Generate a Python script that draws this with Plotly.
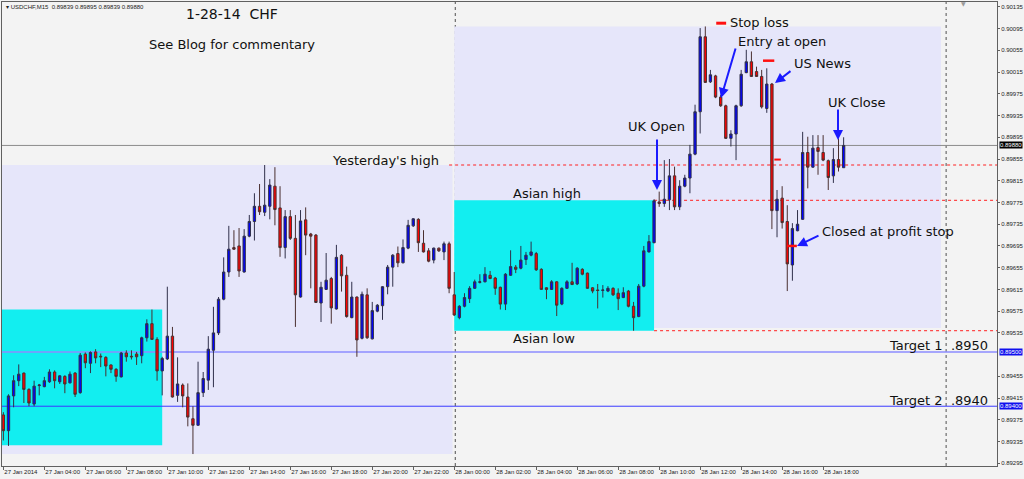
import plotly.graph_objects as go
import pandas as pd

# ---------------- data (USDCHF M15) ----------------
bar_times = pd.date_range("2014-01-27 02:00", periods=165, freq="15min")

opens = [0.89384,0.89355,0.89419,0.89447,0.89461,0.89431,0.89404,0.89438,0.89436,0.89445,
         0.89463,0.89445,0.89455,0.89443,0.89461,0.89425,0.89496,0.89479,0.89500,0.89492,
         0.89490,0.89476,0.89468,0.89454,0.89498,0.89492,0.89496,0.89493,0.89526,0.89552,
         0.89523,0.89465,0.89487,0.89529,0.89420,0.89439,0.89417,0.89377,0.89365,0.89425,
         0.89448,0.89503,0.89535,0.89597,0.89647,0.89692,0.89695,0.89647,0.89713,0.89740,
         0.89768,0.89757,0.89768,0.89805,0.89765,0.89692,0.89749,0.89709,0.89601,0.89743,
         0.89717,0.89715,0.89590,0.89615,0.89635,0.89579,0.89678,0.89641,0.89563,0.89601,
         0.89525,0.89605,0.89524,0.89575,0.89585,0.89620,0.89656,0.89681,0.89664,0.89691,
         0.89732,0.89744,0.89700,0.89686,0.89669,0.89691,0.89684,0.89699,0.89605,0.89563,
         0.89584,0.89598,0.89617,0.89628,0.89629,0.89641,0.89636,0.89619,0.89588,0.89641,
         0.89656,0.89654,0.89670,0.89678,0.89681,0.89652,0.89618,0.89615,0.89629,0.89588,
         0.89617,0.89629,0.89625,0.89652,0.89645,0.89618,0.89614,0.89613,0.89612,0.89617,
         0.89608,0.89600,0.89612,0.89584,0.89565,0.89621,0.89684,0.89701,0.89776,0.89773,
         0.89780,0.89824,0.89767,0.89805,0.89820,0.89864,0.89942,0.90080,0.89997,0.90008,
         0.89969,0.89953,0.89893,0.89901,0.89953,0.90014,0.90034,0.90016,0.90007,0.89948,
         0.89993,0.89760,0.89783,0.89740,0.89660,0.89723,0.89744,0.89867,0.89840,0.89876,
         0.89867,0.89852,0.89824,0.89854,0.89839]
highs = [0.89389,0.89422,0.89457,0.89477,0.89462,0.89433,0.89447,0.89441,0.89454,0.89468,
         0.89466,0.89457,0.89457,0.89464,0.89463,0.89498,0.89499,0.89501,0.89505,0.89497,
         0.89492,0.89477,0.89470,0.89500,0.89503,0.89503,0.89500,0.89528,0.89560,0.89578,
         0.89527,0.89491,0.89620,0.89546,0.89490,0.89442,0.89442,0.89400,0.89482,0.89463,
         0.89529,0.89583,0.89601,0.89674,0.89732,0.89724,0.89728,0.89726,0.89752,0.89792,
         0.89809,0.89844,0.89818,0.89840,0.89805,0.89761,0.89761,0.89752,0.89761,0.89766,
         0.89719,0.89717,0.89629,0.89682,0.89638,0.89697,0.89680,0.89657,0.89629,0.89602,
         0.89611,0.89617,0.89592,0.89588,0.89621,0.89660,0.89680,0.89694,0.89707,0.89743,
         0.89746,0.89746,0.89724,0.89691,0.89692,0.89692,0.89703,0.89703,0.89647,0.89586,
         0.89608,0.89621,0.89633,0.89643,0.89656,0.89649,0.89638,0.89620,0.89645,0.89687,
         0.89660,0.89695,0.89684,0.89703,0.89684,0.89654,0.89619,0.89632,0.89630,0.89619,
         0.89632,0.89664,0.89656,0.89654,0.89646,0.89619,0.89625,0.89623,0.89621,0.89619,
         0.89617,0.89619,0.89614,0.89592,0.89625,0.89695,0.89715,0.89781,0.89795,0.89853,
         0.89855,0.89841,0.89816,0.89826,0.89881,0.89955,0.90096,0.90099,0.90019,0.90010,
         0.89973,0.89955,0.89908,0.89955,0.90019,0.90056,0.90053,0.90025,0.90019,0.90022,
         0.89995,0.89798,0.89805,0.89770,0.89737,0.89761,0.89905,0.89896,0.89899,0.89899,
         0.89899,0.89854,0.89875,0.89893,0.89895]
lows = [0.89337,0.89327,0.89398,0.89437,0.89406,0.89400,0.89400,0.89420,0.89435,0.89443,
        0.89433,0.89441,0.89424,0.89442,0.89417,0.89423,0.89470,0.89461,0.89479,0.89472,
        0.89455,0.89461,0.89445,0.89453,0.89482,0.89486,0.89476,0.89479,0.89519,0.89522,
        0.89447,0.89420,0.89485,0.89416,0.89408,0.89398,0.89363,0.89312,0.89364,0.89417,
        0.89430,0.89435,0.89531,0.89595,0.89638,0.89688,0.89638,0.89646,0.89711,0.89705,
        0.89752,0.89750,0.89744,0.89733,0.89675,0.89672,0.89706,0.89546,0.89600,0.89678,
        0.89617,0.89590,0.89555,0.89614,0.89552,0.89578,0.89611,0.89563,0.89562,0.89491,
        0.89523,0.89524,0.89523,0.89573,0.89559,0.89606,0.89620,0.89656,0.89663,0.89689,
        0.89730,0.89684,0.89683,0.89665,0.89663,0.89684,0.89669,0.89608,0.89566,0.89560,
        0.89582,0.89590,0.89616,0.89626,0.89628,0.89634,0.89605,0.89578,0.89577,0.89640,
        0.89645,0.89652,0.89660,0.89676,0.89649,0.89614,0.89597,0.89614,0.89566,0.89586,
        0.89616,0.89623,0.89623,0.89641,0.89616,0.89608,0.89580,0.89600,0.89610,0.89603,
        0.89577,0.89599,0.89582,0.89539,0.89564,0.89619,0.89683,0.89700,0.89767,0.89767,
        0.89761,0.89761,0.89761,0.89803,0.89792,0.89862,0.89902,0.89995,0.89995,0.89967,
        0.89951,0.89892,0.89878,0.89853,0.89951,0.90013,0.90006,0.90006,0.89948,0.89940,
        0.89726,0.89711,0.89727,0.89612,0.89631,0.89722,0.89743,0.89801,0.89839,0.89826,
        0.89851,0.89798,0.89811,0.89832,0.89839]
closes = [0.89355,0.89419,0.89447,0.89459,0.89431,0.89406,0.89437,0.89439,0.89447,0.89463,
          0.89447,0.89456,0.89441,0.89459,0.89422,0.89494,0.89480,0.89499,0.89489,0.89491,
          0.89474,0.89468,0.89455,0.89498,0.89491,0.89491,0.89491,0.89526,0.89552,0.89523,
          0.89465,0.89488,0.89529,0.89417,0.89441,0.89419,0.89380,0.89365,0.89425,0.89451,
          0.89505,0.89535,0.89597,0.89647,0.89689,0.89689,0.89649,0.89713,0.89740,0.89768,
          0.89758,0.89770,0.89807,0.89762,0.89692,0.89749,0.89709,0.89605,0.89741,0.89715,
          0.89713,0.89591,0.89619,0.89632,0.89581,0.89674,0.89640,0.89565,0.89601,0.89522,
          0.89606,0.89526,0.89576,0.89586,0.89620,0.89656,0.89678,0.89664,0.89692,0.89733,
          0.89745,0.89701,0.89684,0.89667,0.89691,0.89686,0.89699,0.89617,0.89568,0.89584,
          0.89600,0.89617,0.89629,0.89629,0.89643,0.89635,0.89617,0.89588,0.89643,0.89657,
          0.89652,0.89669,0.89678,0.89684,0.89651,0.89615,0.89615,0.89629,0.89586,0.89617,
          0.89629,0.89624,0.89654,0.89643,0.89617,0.89612,0.89613,0.89614,0.89617,0.89605,
          0.89598,0.89609,0.89584,0.89563,0.89621,0.89686,0.89703,0.89778,0.89773,0.89781,
          0.89824,0.89767,0.89805,0.89820,0.89864,0.89942,0.90080,0.89996,0.90010,0.89969,
          0.89953,0.89893,0.89901,0.89953,0.90011,0.90034,0.90007,0.90007,0.89951,0.89993,
          0.89760,0.89781,0.89738,0.89662,0.89727,0.89735,0.89867,0.89840,0.89875,0.89869,
          0.89853,0.89821,0.89854,0.89840,0.89880]

# key levels
yesterday_high = 0.89844
yesterday_low = 0.89312
today_high = 0.90099
today_low = 0.89544
asian_high_27 = 0.89578
asian_low_27 = 0.89328
asian_high_28 = 0.89779
asian_low_28 = 0.89539
target_1 = 0.89500
target_2 = 0.89400
bid_price = 0.89880

y_tick_vals = [0.90135, 0.90095, 0.90055, 0.90015, 0.89975, 0.89935, 0.89895, 0.89855,
               0.89815, 0.89775, 0.89735, 0.89695, 0.89655, 0.89615, 0.89575, 0.89535,
               0.89455, 0.89415, 0.89375, 0.89335, 0.89295]
x_tick_times = ["2014-01-27 02:00", "2014-01-27 04:00", "2014-01-27 06:00", "2014-01-27 08:00",
                "2014-01-27 10:00", "2014-01-27 12:00", "2014-01-27 14:00", "2014-01-27 16:00",
                "2014-01-27 18:00", "2014-01-27 20:00", "2014-01-27 22:00", "2014-01-28 00:00",
                "2014-01-28 02:00", "2014-01-28 04:00", "2014-01-28 06:00", "2014-01-28 08:00",
                "2014-01-28 10:00", "2014-01-28 12:00", "2014-01-28 14:00", "2014-01-28 16:00",
                "2014-01-28 18:00"]
x_tick_text = ["27 Jan 2014", "27 Jan 04:00", "27 Jan 06:00", "27 Jan 08:00", "27 Jan 10:00",
               "27 Jan 12:00", "27 Jan 14:00", "27 Jan 16:00", "27 Jan 18:00", "27 Jan 20:00",
               "27 Jan 22:00", "28 Jan 00:00", "28 Jan 02:00", "28 Jan 04:00", "28 Jan 06:00",
               "28 Jan 08:00", "28 Jan 10:00", "28 Jan 12:00", "28 Jan 14:00", "28 Jan 16:00",
               "28 Jan 18:00"]

# ---------------- figure ----------------
W, H = 1024, 479
ML, MR, MT, MB = 2, 27, 2, 13
PL, PR, PT, PB = ML, W - MR, MT, H - MB

def fx(x):
    return (x - PL) / (PR - PL)

def fy(y):
    return (PB - y) / (PB - PT)

x_start = pd.Timestamp("2014-01-27 01:56")
x_end = pd.Timestamp("2014-01-29 02:29")

LAV = "#e6e6fa"
CYAN = "#12eef0"
BG = "#f3f3f3"

fig = go.Figure()
fig.add_trace(go.Candlestick(
    x=bar_times, open=opens, high=highs, low=lows, close=closes,
    increasing=dict(line=dict(color="#30304a", width=1), fillcolor="#0000ff"),
    decreasing=dict(line=dict(color="#4a3030", width=1), fillcolor="#ff0000"),
    whiskerwidth=0, showlegend=False, hoverinfo="skip"))

shapes = []
def rect(x0, x1, y0, y1, color):
    shapes.append(dict(type="rect", xref="x", yref="y", x0=x0, x1=x1, y0=y0, y1=y1,
                       fillcolor=color, line=dict(width=0), layer="below"))

def hline(y, x0, x1, color, width=1, dash="solid"):
    shapes.append(dict(type="line", xref="x", yref="y", x0=x0, x1=x1, y0=y, y1=y,
                       line=dict(color=color, width=width, dash=dash), layer="below"))

rect(x_start, "2014-01-27 23:55", yesterday_low, yesterday_high, LAV)
rect("2014-01-28 00:00", "2014-01-28 23:45", today_low, today_high, LAV)
rect(x_start, "2014-01-27 09:45", asian_low_27, asian_high_27, CYAN)
rect("2014-01-28 00:00", "2014-01-28 09:45", asian_low_28, asian_high_28, CYAN)

hline(bid_price, x_start, x_end, "#8c8c8c")
hline(target_1, x_start, x_end, "#8c8cff", 1.5)
hline(target_2, x_start, x_end, "#3a3aff", 1)
hline(yesterday_high, "2014-01-27 23:45", x_end, "#ff2020", 1, "dot")
hline(asian_high_28, "2014-01-28 09:45", x_end, "#ff2020", 1, "dot")
hline(asian_low_28, "2014-01-28 09:45", x_end, "#ff2020", 1, "dot")

for t in ["2014-01-28 00:03", "2014-01-29 00:00"]:
    shapes.append(dict(type="line", xref="x", yref="paper", x0=t, x1=t, y0=0, y1=1,
                       line=dict(color="#505050", width=1, dash="dot"), layer="below"))

# red order marks
red_marks = [("2014-01-28 12:47", "2014-01-28 13:16", 0.90105, 3),
             ("2014-01-28 15:04", "2014-01-28 15:37", 0.90036, 2.5),
             ("2014-01-28 15:37", "2014-01-28 15:56", 0.89854, 2),
             ("2014-01-28 16:14", "2014-01-28 16:43", 0.89695, 2.5)]
for a, b, p, w in red_marks:
    shapes.append(dict(type="line", xref="x", yref="y", x0=a, x1=b, y0=p, y1=p,
                       line=dict(color="#ff1010", width=w)))

annotations = []
TXT = dict(family="DejaVu Sans", size=13, color="#111111")

def label(text, x, y, size=13, anchor="center"):
    f = dict(TXT)
    f["size"] = size
    annotations.append(dict(text=text, x=fx(x), y=fy(y), xref="paper", yref="paper",
                            showarrow=False, font=f, xanchor=anchor, yanchor="middle"))

label("1-28-14  CHF", 232, 14, size=14)
label("See Blog for commentary", 232, 45)
label("Yesterday's high", 385, 160)
label("Asian high", 547, 193)
label("Asian low", 544, 338)
label("UK Open", 656, 127)
label("Stop loss", 759, 22)
label("Entry at open", 782, 41)
label("US News", 822, 64)
label("UK Close", 857, 102)
label("Closed at profit stop", 888, 231)
label("Target 1  .8950", 990, 345, anchor="right")
label("Target 2  .8940", 990, 400, anchor="right")

annotations.append(dict(text="\u25be USDCHF,M15  0.89839 0.89895 0.89839 0.89880",
                        x=fx(4), y=fy(7), xref="paper", yref="paper", showarrow=False,
                        xanchor="left", yanchor="middle",
                        font=dict(family="Liberation Sans", size=6, color="#222222")))
annotations.append(dict(text="\u25bc", x=fx(963), y=fy(4), xref="paper", yref="paper",
                        showarrow=False, xanchor="center", yanchor="middle",
                        font=dict(family="DejaVu Sans", size=6, color="#9a9a9a")))

# blue arrows: head (x, y) in pixels, tail offset
arrows = [(657, 190, 0, -52), (721, 98, 15, -51), (775, 83, 17, -13),
          (838, 140, 0, -32), (797, 246, 23, -11)]
for x, y, ax, ay in arrows:
    annotations.append(dict(text="", x=fx(x), y=fy(y), xref="paper", yref="paper",
                            showarrow=True, ax=ax, ay=ay, arrowhead=2, arrowsize=1,
                            arrowwidth=2, arrowcolor="#1a1aff"))

# highlighted axis price labels
for p, bgc in [(bid_price, "#000000"), (target_1, "#1010ee"), (target_2, "#1010ee")]:
    annotations.append(dict(text=f"{p:.5f}", x=1, xref="paper", y=p, yref="y",
                            xanchor="left", yanchor="middle", xshift=2, showarrow=False,
                            bgcolor=bgc, borderpad=0,
                            font=dict(family="Liberation Sans", size=6, color="#ffffff")))

fig.update_layout(
    width=W, height=H,
    margin=dict(l=ML, r=MR, t=MT, b=MB, autoexpand=False),
    paper_bgcolor=BG, plot_bgcolor=BG,
    shapes=shapes, annotations=annotations,
    showlegend=False, boxgap=0.35,
    xaxis=dict(type="date", range=[x_start, x_end], rangeslider=dict(visible=False),
               automargin=False, tickangle=0,
               showgrid=False, zeroline=False, showline=True, linecolor="#606060",
               linewidth=1, mirror=True, ticks="outside", ticklen=3, tickcolor="#606060",
               tickvals=pd.to_datetime(x_tick_times), ticktext=x_tick_text,
               ticklabelposition="outside right",
               tickfont=dict(family="Liberation Sans", size=6, color="#222222")),
    yaxis=dict(range=[0.89290, 0.90144], side="right", showgrid=False, zeroline=False,
               automargin=False,
               showline=True, linecolor="#606060", linewidth=1, mirror=True,
               ticks="outside", ticklen=2, tickcolor="#606060",
               tickvals=y_tick_vals, ticktext=[f"{v:.5f}" for v in y_tick_vals],
               tickfont=dict(family="Liberation Sans", size=6, color="#222222")),
)

fig.write_html("out.html", config={"displayModeBar": False},
               post_script="document.body.style.margin='0';document.body.style.overflow='hidden';")
